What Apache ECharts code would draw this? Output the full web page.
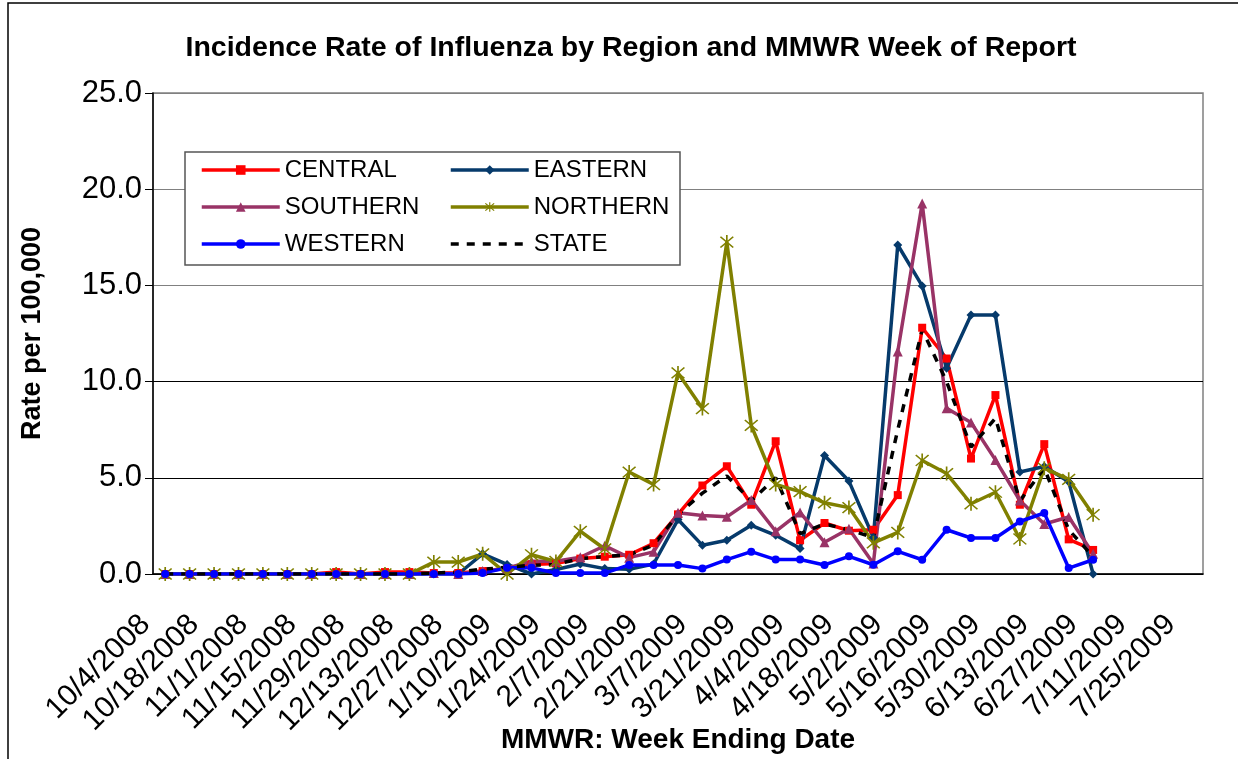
<!DOCTYPE html>
<html>
<head>
<meta charset="utf-8">
<script src="https://cdn.jsdelivr.net/npm/echarts@6/dist/echarts.min.js"></script>
<style>
  html, body { margin: 0; padding: 0; background: #fff; }
  #chart { width: 1238px; height: 759px; }
</style>
</head>
<body>
<div id="chart"></div>
<script>
// Week ending dates (MMWR weeks)
const weeks = [
  '10/4/2008', '10/11/2008', '10/18/2008', '10/25/2008', '11/1/2008', '11/8/2008',
  '11/15/2008', '11/22/2008', '11/29/2008', '12/6/2008', '12/13/2008', '12/20/2008',
  '12/27/2008', '1/3/2009', '1/10/2009', '1/17/2009', '1/24/2009', '1/31/2009',
  '2/7/2009', '2/14/2009', '2/21/2009', '2/28/2009', '3/7/2009', '3/14/2009',
  '3/21/2009', '3/28/2009', '4/4/2009', '4/11/2009', '4/18/2009', '4/25/2009',
  '5/2/2009', '5/9/2009', '5/16/2009', '5/23/2009', '5/30/2009', '6/6/2009',
  '6/13/2009', '6/20/2009', '6/27/2009', '7/4/2009', '7/11/2009', '7/18/2009',
  '7/25/2009'
]

// Rate per 100,000 by region
const central = [0, 0, 0, 0, 0, 0, 0, 0.1, 0, 0.1, 0.1, 0.05, 0.05, 0.15, 0.3, 0.5, 0.55, 0.8, 0.9, 1.0,
  1.6, 3.1, 4.6, 5.6, 3.6, 6.9, 1.75, 2.65, 2.25, 2.3, 4.1, 12.8, 11.2, 6.0, 9.3, 3.6, 6.75, 1.8, 1.25]
const eastern = [0, 0, 0, 0, 0, 0, 0, 0, 0, 0, 0, 0, 0, 1.05, 0.5, 0, 0.23, 0.52, 0.28, 0.25,
  0.52, 2.83, 1.49, 1.75, 2.53, 2.01, 1.33, 6.16, 4.83, 1.9, 17.1, 14.97, 10.7, 13.46, 13.46, 5.3, 5.59, 4.8, 0]
const southern = [0, 0, 0, 0, 0, 0, 0, 0, 0, 0, 0, 0.05, 0, 0.15, 0.3, 0.66, 0.66, 0.87, 1.47, 0.85,
  1.15, 3.18, 3.04, 2.97, 3.84, 2.22, 3.2, 1.65, 2.35, 0.55, 11.56, 19.26, 8.62, 7.87, 5.93, 3.82, 2.6, 2.96, 1.05]
const northern = [0, 0, 0, 0, 0, 0, 0, 0, 0, 0, 0, 0.62, 0.62, 1.05, 0, 1.0, 0.65, 2.22, 1.3, 5.3,
  4.65, 10.45, 8.6, 17.25, 7.72, 4.65, 4.28, 3.7, 3.45, 1.62, 2.16, 5.9, 5.22, 3.65, 4.25, 1.82, 5.5, 4.92, 3.08]
const western = [0, 0, 0, 0, 0, 0, 0, 0, 0, 0, 0, 0, 0, 0.05, 0.32, 0.32, 0.05, 0.05, 0.05, 0.47,
  0.47, 0.47, 0.28, 0.75, 1.16, 0.75, 0.75, 0.47, 0.92, 0.48, 1.18, 0.74, 2.3, 1.87, 1.87, 2.73, 3.17, 0.31, 0.74]
const state = [0, 0, 0, 0, 0, 0, 0, 0, 0, 0, 0, 0.05, 0.1, 0.25, 0.35, 0.45, 0.5, 0.8, 0.9, 1.0,
  1.5, 3.1, 4.2, 5.1, 3.8, 5.0, 2.1, 2.6, 2.3, 1.9, 7.5, 12.7, 10.0, 6.6, 8.1, 3.8, 5.5, 2.3, 0.9]

const font = '"Liberation Sans", Arial, sans-serif'
// asterisk marker (X with a vertical bar)
const starPath = 'path://M9,0 L11,0 L11,20 L9,20 Z M1.6,3 L3,1.6 L18.4,17 L17,18.4 Z M17,1.6 L18.4,3 L3,18.4 L1.6,17 Z'

const chart = echarts.init(document.getElementById('chart'))

function lineSeries(name, data, color, symbol, size) {
  return {
    name: name,
    type: 'line',
    data: data,
    symbol: symbol,
    symbolSize: size,
    showSymbol: symbol !== 'none',
    lineStyle: { color: color, width: 3.5 },
    itemStyle: { color: color },
    emphasis: { disabled: true },
    animation: false
  }
}

const legendBase = {
  orient: 'vertical',
  top: 158,
  padding: 0,
  itemWidth: 78,
  itemHeight: 12,
  itemGap: 13,
  z: 10,
  lineStyle: { width: 3.5 },
  textStyle: { fontFamily: font, fontSize: 24, color: '#000' }
}

const option = {
  backgroundColor: '#ffffff',
  title: {
    text: 'Incidence Rate of Influenza by Region and MMWR Week of Report',
    left: 626,
    top: 29,
    textAlign: 'center',
    textStyle: { fontFamily: font, fontSize: 28.5, fontWeight: 'bold', color: '#000' }
  },
  graphic: [
    {
      type: 'rect',
      z: -10,
      shape: { x: 8, y: 3, width: 1300, height: 800 },
      style: { fill: 'none', stroke: '#000', lineWidth: 1.5 }
    },
    {
      type: 'rect',
      z: 5,
      shape: { x: 185, y: 152, width: 495, height: 113 },
      style: { fill: '#fff', stroke: '#555', lineWidth: 1.5 }
    }
  ],
  legend: [
    Object.assign({}, legendBase, {
      left: 200,
      data: ['CENTRAL', 'SOUTHERN', 'WESTERN']
    }),
    Object.assign({}, legendBase, {
      left: 449,
      data: ['EASTERN', 'NORTHERN', { name: 'STATE', itemStyle: { opacity: 0 } }]
    })
  ],
  grid: {
    left: 153,
    top: 93,
    width: 1050,
    height: 481,
    outerBoundsMode: 'none',
    containLabel: false,
    show: true,
    borderColor: '#808080',
    borderWidth: 1.5
  },
  xAxis: {
    type: 'category',
    data: weeks,
    boundaryGap: true,
    name: 'MMWR: Week Ending Date',
    nameLocation: 'middle',
    nameGap: 152,
    nameMoveOverlap: false,
    nameTextStyle: { fontFamily: font, fontSize: 28, fontWeight: 'bold', color: '#000' },
    axisLine: { lineStyle: { color: '#000', width: 1.5 } },
    axisTick: { alignWithLabel: false, interval: 0, length: 7, lineStyle: { color: '#000' } },
    axisLabel: {
      interval: 1,
      rotate: 45,
      margin: 26,
      padding: [0, 28, 0, 0],
      fontFamily: font,
      fontSize: 30,
      color: '#000'
    }
  },
  yAxis: {
    type: 'value',
    min: 0,
    max: 25,
    interval: 5,
    name: 'Rate per 100,000',
    nameLocation: 'middle',
    nameGap: 107,
    nameTextStyle: { fontFamily: font, fontSize: 27, fontWeight: 'bold', color: '#000' },
    axisLine: { show: true, lineStyle: { color: '#000', width: 1.5 } },
    axisTick: { show: true, length: 8, lineStyle: { color: '#000' } },
    axisLabel: {
      margin: 11,
      fontFamily: font,
      fontSize: 31,
      color: '#000',
      formatter: function (v) { return v.toFixed(1) }
    },
    splitLine: {
      lineStyle: { color: ['#000', '#000', '#000', '#808080', '#808080', '#808080'], width: 1.2 }
    }
  },
  series: [
    lineSeries('CENTRAL', central, '#ff0000', 'rect', 8),
    lineSeries('EASTERN', eastern, '#063a6b', 'diamond', 9),
    lineSeries('SOUTHERN', southern, '#993366', 'triangle', 10),
    lineSeries('NORTHERN', northern, '#808000', starPath, 14),
    lineSeries('WESTERN', western, '#0000ff', 'circle', 8),
    Object.assign(lineSeries('STATE', state, '#000000', 'none', 0), {
      lineStyle: { color: '#000', width: 3.5, type: [8, 8] }
    })
  ]
}

chart.setOption(option)
</script>
</body>
</html>
